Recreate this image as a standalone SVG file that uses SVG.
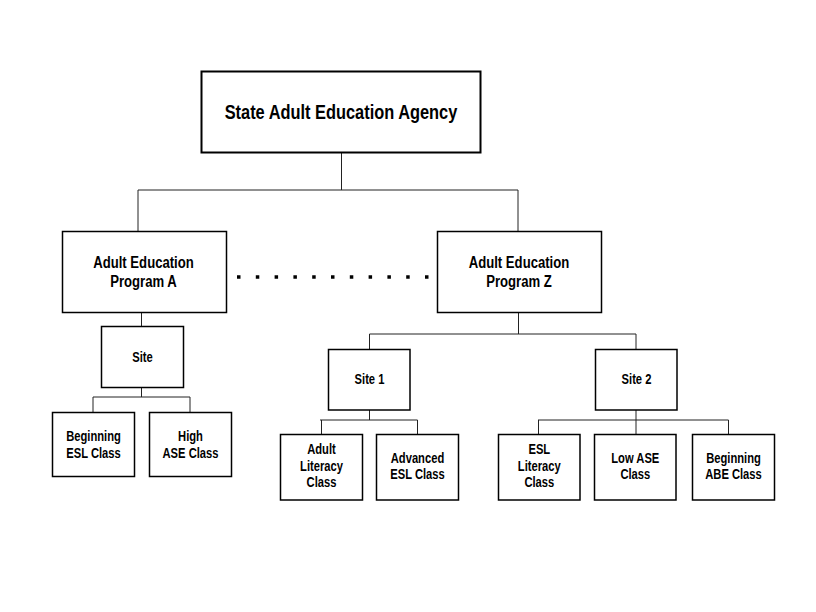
<svg xmlns="http://www.w3.org/2000/svg" width="816" height="612" viewBox="0 0 816 612">
<style>
.box{fill:#fff;stroke:#000;stroke-width:1.5}
.conn{fill:none;stroke:#222;stroke-width:1}
.t{font-family:"Liberation Sans",Arial,sans-serif;font-weight:bold;fill:#000;text-anchor:middle}
.big{font-size:20px}
.mid{font-size:16px}
.sm{font-size:14px}
</style>
<rect width="816" height="612" fill="#fff"/>
<g id="connectors">
<path class="conn" d="M341.5,153 V190 M138,190 H518 M138,190 V231 M518,190 V231"/>
<path class="conn" d="M141.5,313 V326 M141.5,388 V397 M93,397 H190 M93,397 V412 M190,397 V412"/>
<path class="conn" d="M518.5,313 V334 M369.5,334 H636 M369.5,334 V349 M636,334 V349"/>
<path class="conn" d="M369.5,410 V420 M320,420 H417.5 M321.5,420 V434 M417.5,420 V434"/>
<path class="conn" d="M636,410 V420 M538,420 H728.5 M538.5,420 V434 M636,420 V434 M728.5,420 V434"/>
<line x1="237" y1="277" x2="429" y2="277" stroke="#000" stroke-width="3.5" stroke-dasharray="3.5 15.3"/>
</g>
<g id="agency">
<rect class="box" x="201.5" y="71.5" width="279" height="81" style="stroke-width:2"/>
<text class="t big" transform="translate(341,119) scale(0.82,1)">State Adult Education Agency</text>
</g>
<g id="programA">
<rect class="box" x="62.5" y="231.5" width="164" height="81"/>
<text class="t mid" transform="translate(143.5,268.3) scale(0.82,1)">Adult Education</text>
<text class="t mid" transform="translate(143.5,286.7) scale(0.82,1)">Program A</text>
</g>
<g id="programZ">
<rect class="box" x="437.5" y="231.5" width="164" height="81"/>
<text class="t mid" transform="translate(519,268.3) scale(0.82,1)">Adult Education</text>
<text class="t mid" transform="translate(519,286.7) scale(0.82,1)">Program Z</text>
</g>
<g id="site">
<rect class="box" x="101.5" y="326.5" width="82" height="61"/>
<text class="t sm" transform="translate(142.5,362) scale(0.8,1)">Site</text>
</g>
<g id="beginningESL">
<rect class="box" x="52.5" y="412.5" width="82" height="64"/>
<text class="t sm" transform="translate(93.5,441) scale(0.8,1)">Beginning</text>
<text class="t sm" transform="translate(93.5,457.7) scale(0.8,1)">ESL Class</text>
</g>
<g id="highASE">
<rect class="box" x="149.5" y="412.5" width="82" height="64"/>
<text class="t sm" transform="translate(190.5,441) scale(0.8,1)">High</text>
<text class="t sm" transform="translate(190.5,457.7) scale(0.8,1)">ASE Class</text>
</g>
<g id="site1">
<rect class="box" x="328.5" y="349.5" width="81.5" height="60.5"/>
<text class="t sm" transform="translate(369.5,384) scale(0.8,1)">Site 1</text>
</g>
<g id="site2">
<rect class="box" x="595.5" y="349.5" width="81.5" height="60.5"/>
<text class="t sm" transform="translate(636.5,384) scale(0.8,1)">Site 2</text>
</g>
<g id="adultLiteracy">
<rect class="box" x="280.5" y="434.5" width="82" height="65.5"/>
<text class="t sm" transform="translate(321.5,454.3) scale(0.8,1)">Adult</text>
<text class="t sm" transform="translate(321.5,470.8) scale(0.8,1)">Literacy</text>
<text class="t sm" transform="translate(321.5,487) scale(0.8,1)">Class</text>
</g>
<g id="advancedESL">
<rect class="box" x="376.5" y="434.5" width="82" height="65.5"/>
<text class="t sm" transform="translate(417.5,462.7) scale(0.8,1)">Advanced</text>
<text class="t sm" transform="translate(417.5,479.3) scale(0.8,1)">ESL Class</text>
</g>
<g id="eslLiteracy">
<rect class="box" x="498.5" y="434.5" width="81.5" height="65.5"/>
<text class="t sm" transform="translate(539.3,454.3) scale(0.8,1)">ESL</text>
<text class="t sm" transform="translate(539.3,470.8) scale(0.8,1)">Literacy</text>
<text class="t sm" transform="translate(539.3,487) scale(0.8,1)">Class</text>
</g>
<g id="lowASE">
<rect class="box" x="594.5" y="434.5" width="81.5" height="65.5"/>
<text class="t sm" transform="translate(635.3,462.7) scale(0.8,1)">Low ASE</text>
<text class="t sm" transform="translate(635.3,479.3) scale(0.8,1)">Class</text>
</g>
<g id="beginningABE">
<rect class="box" x="692.5" y="434.5" width="82" height="65.5"/>
<text class="t sm" transform="translate(733.5,462.7) scale(0.8,1)">Beginning</text>
<text class="t sm" transform="translate(733.5,479.3) scale(0.8,1)">ABE Class</text>
</g>
</svg>
